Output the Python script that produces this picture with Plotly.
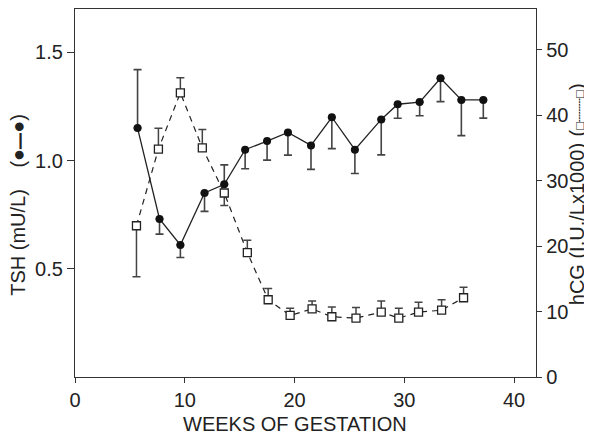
import plotly.graph_objects as go

# ---- data ----
tsh_weeks = [5.7, 7.7, 9.6, 11.8, 13.6, 15.5, 17.5, 19.4, 21.5, 23.4, 25.5, 27.9, 29.4, 31.4, 33.3, 35.2, 37.2]
tsh_vals = [1.15, 0.73, 0.61, 0.85, 0.89, 1.05, 1.09, 1.13, 1.07, 1.20, 1.05, 1.19, 1.26, 1.27, 1.38, 1.28, 1.28]
tsh_err_up = [0.27, 0, 0, 0, 0.09, 0, 0, 0, 0, 0, 0, 0, 0, 0, 0, 0, 0]
tsh_err_down = [0, 0.07, 0.058, 0.085, 0, 0.088, 0.088, 0.105, 0.111, 0.145, 0.11, 0.164, 0.065, 0.063, 0.108, 0.165, 0.084]

hcg_weeks = [5.6, 7.6, 9.6, 11.6, 13.6, 15.7, 17.6, 19.6, 21.6, 23.4, 25.6, 27.9, 29.5, 31.3, 33.4, 35.4]
hcg_vals = [23.1, 34.8, 43.4, 35.0, 28.1, 19.0, 11.8, 9.4, 10.4, 9.2, 9.0, 9.9, 9.0, 9.9, 10.2, 12.1]
hcg_err_up = [0, 3.2, 2.3, 2.8, 0, 1.9, 1.7, 1.1, 1.2, 1.5, 1.6, 1.7, 1.5, 1.5, 1.6, 1.6]
hcg_err_down = [7.8, 0, 0, 0, 1.9, 0, 0, 0, 0, 0, 0, 0, 0, 0, 0, 0]

x_ticks = [0, 10, 20, 30, 40]
tsh_ticks = [0.5, 1.0, 1.5]
tsh_ticktext = ["0.5", "1.0", "1.5"]
hcg_ticks = [0, 10, 20, 30, 40, 50]

FONT = "Liberation Sans, Arial, Helvetica, sans-serif"
INK = "#222222"
AX = "#333333"
FS = 20

fig = go.Figure()

fig.add_trace(go.Scatter(
    x=tsh_weeks, y=tsh_vals, mode="lines+markers",
    line=dict(color=INK, width=1.3),
    marker=dict(symbol="circle", size=8, color="#111111"),
    error_y=dict(type="data", symmetric=False, array=tsh_err_up, arrayminus=tsh_err_down,
                 color="#444444", thickness=1.6, width=4),
    yaxis="y", showlegend=False,
))

fig.add_trace(go.Scatter(
    x=hcg_weeks, y=hcg_vals, mode="lines+markers",
    line=dict(color=INK, width=1.2, dash="6px,5px"),
    marker=dict(symbol="square", size=8, color="white", line=dict(color=INK, width=1.3)),
    error_y=dict(type="data", symmetric=False, array=hcg_err_up, arrayminus=hcg_err_down,
                 color="#444444", thickness=1.5, width=4),
    yaxis="y2", showlegend=False,
))

fig.update_layout(
    width=584, height=428,
    margin=dict(l=67, r=56, t=1, b=59),
    paper_bgcolor="white", plot_bgcolor="white",
    font=dict(family=FONT, size=FS, color=INK),
    xaxis=dict(
        range=[0, 42], tickvals=x_ticks, ticks="outside", ticklen=5, tickwidth=1.2,
        tickcolor=AX, showline=True, linecolor=AX, linewidth=1.3, mirror=True,
        showgrid=False, zeroline=False, tickfont=dict(size=FS, color=INK),
    ),
    yaxis=dict(
        range=[0, 1.7], tickvals=tsh_ticks, ticktext=tsh_ticktext, ticks="outside",
        ticklen=7, tickwidth=1.2, tickcolor=AX, showline=True, linecolor=AX, linewidth=1.3,
        showgrid=False, zeroline=False, tickfont=dict(size=FS, color=INK),
    ),
    yaxis2=dict(
        range=[0, 56.2], tickvals=hcg_ticks, ticks="outside", ticklen=5, tickwidth=1.2,
        tickcolor=AX, showline=True, linecolor=AX, linewidth=1.3, overlaying="y",
        side="right", anchor="x", showgrid=False, zeroline=False,
        tickfont=dict(size=FS, color=INK),
    ),
    annotations=[
        dict(text="WEEKS OF GESTATION", xref="paper", yref="paper", x=0.477, y=-0.128,
             xanchor="center", yanchor="middle", showarrow=False, font=dict(size=FS)),
        dict(text="TSH (mU/L)", xref="paper", yref="paper", x=-0.124, y=0.367,
             xanchor="center", yanchor="middle", textangle=-90, showarrow=False,
             font=dict(size=FS)),
        dict(text="(●<span style='font-size:13px'>━━</span>●)", xref="paper", yref="paper",
             x=-0.124, y=0.642, xanchor="center", yanchor="middle", textangle=-90,
             showarrow=False, font=dict(size=FS, color=INK)),
        dict(text="hCG (I.U./Lx1000)", xref="paper", yref="paper", x=1.088, y=0.414,
             xanchor="center", yanchor="middle", textangle=-90, showarrow=False,
             font=dict(size=FS)),
        dict(text="(<span style='font-size:13px'>□┄┄┄□</span>)", xref="paper", yref="paper",
             x=1.088, y=0.726, xanchor="center", yanchor="middle", textangle=-90,
             showarrow=False, font=dict(size=FS)),
    ],
)

fig.write_html("out.html")
